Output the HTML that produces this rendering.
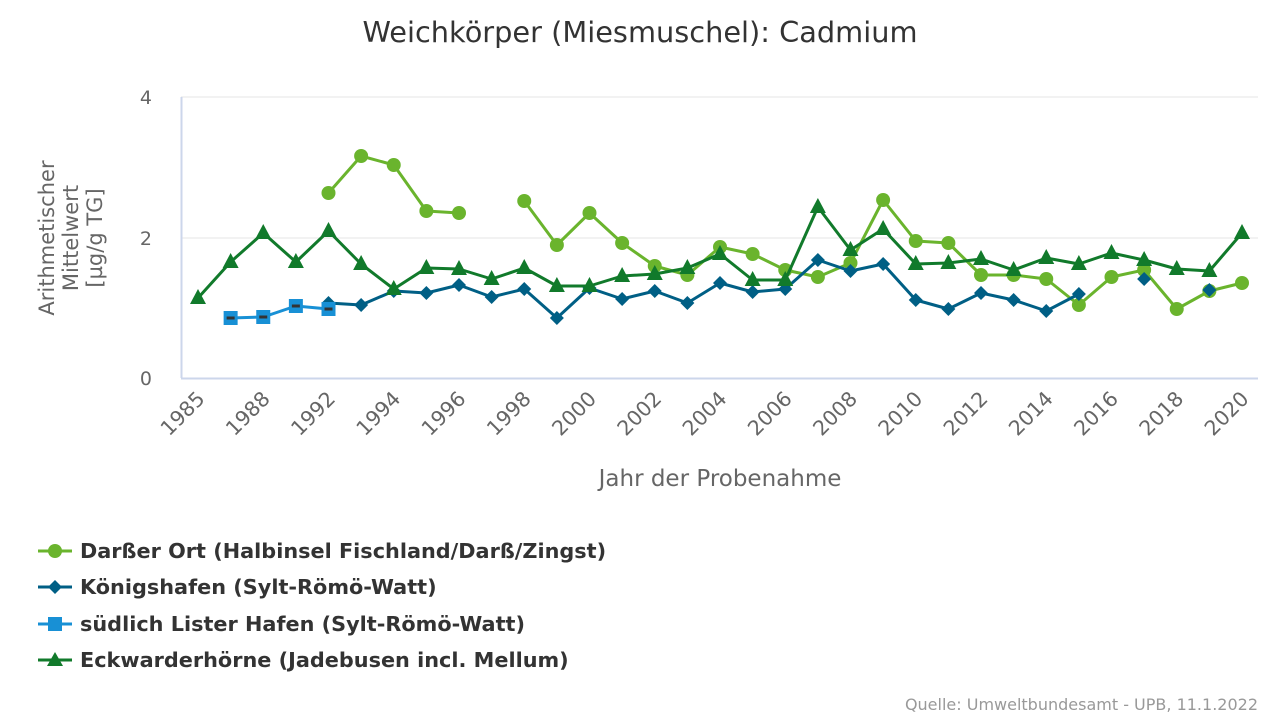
<!DOCTYPE html><html><head><meta charset="utf-8"><style>body{margin:0;background:#fff}svg{display:block}text{font-family:"DejaVu Sans","Liberation Sans",sans-serif}</style></head><body>
<svg id="s" width="1280" height="720" xmlns="http://www.w3.org/2000/svg">
<text x="640" y="42" text-anchor="middle" font-size="28.8" fill="#333">Weichkörper (Miesmuschel): Cadmium</text>
<line x1="181" y1="97" x2="1258" y2="97" stroke="#e6e6e6"/>
<line x1="181" y1="238" x2="1258" y2="238" stroke="#e6e6e6"/>
<line x1="181" y1="378.5" x2="1258" y2="378.5" stroke="#ccd6eb" stroke-width="2"/>
<line x1="181.5" y1="97" x2="181.5" y2="378" stroke="#ccd6eb" stroke-width="2"/>
<g font-size="19" fill="#666" text-anchor="end"><text x="152" y="104">4</text><text x="152" y="245">2</text><text x="152" y="385">0</text></g>
<g font-size="21" fill="#666" text-anchor="middle" transform="translate(100,238) rotate(-90)"><text y="-46">Arithmetischer</text><text y="-22">Mittelwert</text><text y="2">[µg/g TG]</text></g>
<text x="720" y="486" text-anchor="middle" font-size="23" fill="#666">Jahr der Probenahme</text>
<g id="xl" font-size="20.5" fill="#666" text-anchor="end"></g>
<g id="ser"></g>
<g font-size="20.8" fill="#333" font-weight="bold">
<line x1="38" y1="551" x2="72" y2="551" stroke="#6ab42d" stroke-width="3"/><circle cx="55" cy="551" r="7" fill="#6ab42d"/><text x="80" y="558">Darßer Ort (Halbinsel Fischland/Darß/Zingst)</text>
<line x1="38" y1="587" x2="72" y2="587" stroke="#005f85" stroke-width="3"/><path d="M55 580l7 7-7 7-7-7z" fill="#005f85"/><text x="80" y="594">Königshafen (Sylt-Römö-Watt)</text>
<line x1="38" y1="624" x2="72" y2="624" stroke="#1890d5" stroke-width="3"/><rect x="48" y="617" width="14" height="14" fill="#1890d5"/><text x="80" y="631">südlich Lister Hafen (Sylt-Römö-Watt)</text>
<line x1="38" y1="660" x2="72" y2="660" stroke="#117a2b" stroke-width="3"/><path d="M55 652l8 14h-16z" fill="#117a2b"/><text x="80" y="667">Eckwarderhörne (Jadebusen incl. Mellum)</text>
</g>
<text x="1258" y="710" text-anchor="end" font-size="16" fill="#999">Quelle: Umweltbundesamt - UPB, 11.1.2022</text>
</svg>
<script>
function X(i){return 198+i*32.625}
var yrs=[1985,1987,1988,1990];for(var y=1992;y<=2020;y++)yrs.push(y);
var xl=document.getElementById('xl'),h='';
for(var i=0;i<yrs.length;i+=2){var x=X(i)+8,yy=400;h+='<text transform="translate('+x+','+yy+') rotate(-45)">'+yrs[i]+'</text>';}
xl.innerHTML=h;
var N=null;
var D=[N,N,N,N,193,156,165,211,213,N,201,245,213,243,266,275,247,254,270,277,263,200,241,243,275,275,279,305,277,270,309,291,283];
var K=[N,N,N,N,303,305,291,293,285,297,289,318,288,299,291,303,283,292,289,260,271,264,300,309,293,300,311,294,N,279,N,290,N];
var L=[N,318,317,306,309];
var E=[298,262,233,262,231,264,289,268,269,279,268,286,286,276,274,268,254,280,280,207,250,229,264,263,259,270,258,264,253,260,269,271,233];
var out='';
function series(a,col,mk){var d='',pen=false;
for(var i=0;i<a.length;i++){if(a[i]==null){pen=false;continue}d+=(pen?'L':'M')+X(i).toFixed(1)+' '+a[i];pen=true}
out+='<path d="'+d+'" fill="none" stroke="'+col+'" stroke-width="3" stroke-linejoin="round"/>';
for(var i=0;i<a.length;i++){if(a[i]==null)continue;var x=X(i),y=a[i];
if(mk=='c')out+='<circle cx="'+x+'" cy="'+y+'" r="7" fill="'+col+'"/>';
else if(mk=='d')out+='<path d="M'+x+' '+(y-7)+'l7 7-7 7-7-7z" fill="'+col+'"/>';
else if(mk=='s')out+='<rect x="'+(x-7)+'" y="'+(y-7)+'" width="14" height="14" fill="'+col+'"/><rect x="'+(x-4)+'" y="'+(y-1.5)+'" width="8" height="3" fill="#333"/>';
else out+='<path d="M'+x+' '+(y-9)+'l8 15h-16z" fill="'+col+'"/>';}}
series(D,'#6ab42d','c');series(K,'#005f85','d');series(L,'#1890d5','s');series(E,'#117a2b','t');
document.getElementById('ser').innerHTML=out;
</script>
</body></html>
